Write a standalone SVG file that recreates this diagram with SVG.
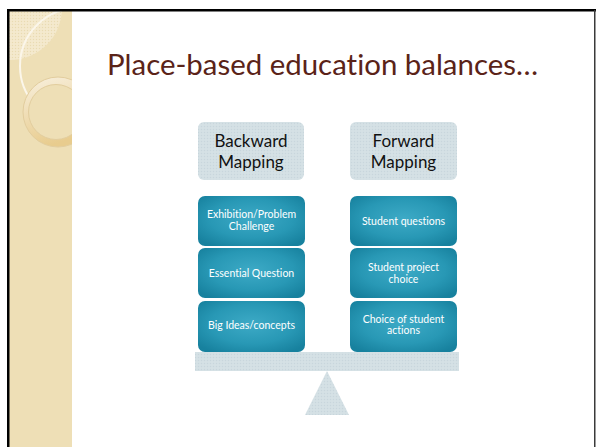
<svg xmlns="http://www.w3.org/2000/svg" width="596" height="447" viewBox="0 0 596 447">
<defs>
<pattern id="chk" width="3" height="3" patternUnits="userSpaceOnUse">
<rect width="3" height="3" fill="#D3DFE4"/>
<rect width="1" height="1" fill="#C8D6DC"/>
<rect x="1.5" y="1.5" width="1" height="1" fill="#DDE7EB"/>
</pattern>
<pattern id="bchk" width="3" height="3" patternUnits="userSpaceOnUse">
<rect width="3" height="3" fill="#F3E8CA"/>
<rect width="1" height="1" fill="#E9DAB3"/>
<rect x="1.5" y="1.5" width="1" height="1" fill="#F7EFDA"/>
</pattern>
<radialGradient id="teal" cx="0.5" cy="0.45" r="0.65">
<stop offset="0" stop-color="#3DAAC6"/>
<stop offset="0.6" stop-color="#2898B5"/>
<stop offset="1" stop-color="#17819E"/>
</radialGradient>
<linearGradient id="ring" x1="0" y1="0" x2="0.3" y2="1">
<stop offset="0" stop-color="#F8F0DE"/>
<stop offset="1" stop-color="#E8CC8E"/>
</linearGradient>
<clipPath id="strip"><rect x="9" y="11" width="63" height="436"/></clipPath>
</defs>
<style>
.hdr{fill:url(#chk)}
.box{fill:url(#teal)}
.ht{font-family:Lato,"Liberation Sans",sans-serif;font-size:17px;fill:#111;text-anchor:middle}
.bt{font-family:Lato,"Liberation Sans",sans-serif;font-size:10.5px;fill:#fff;text-anchor:middle}
text{font-variant-ligatures:none}
</style>
<rect width="596" height="447" fill="#fff"/>
<g id="sidebar">
<rect x="9" y="11" width="63" height="436" fill="#EEDFB6"/>
<g clip-path="url(#strip)">
<circle cx="10" cy="8" r="52" fill="url(#bchk)"/>
<path d="M 78 8 A 58 58 0 0 0 20 66 A 58 58 0 0 0 72 123.7" fill="none" stroke="#FBF6EA" stroke-width="2"/>
<circle cx="58" cy="112" r="35" fill="url(#ring)" stroke="#E2CD9E" stroke-width="1"/>
<circle cx="56" cy="112" r="27.5" fill="#EEDFB6" stroke="#E2CD9E" stroke-width="1"/>
</g>
</g>
<g id="frame">
<rect x="7" y="9" width="589" height="2.5" fill="#000"/>
<rect x="7" y="9" width="2.5" height="438" fill="#000"/>
<rect x="594" y="10" width="1.5" height="437" fill="#3A3A3A"/>
</g>
<text id="title" x="107" y="75" font-family="Lato,'Liberation Sans',sans-serif" font-size="28" fill="#5A2318" textLength="431" lengthAdjust="spacingAndGlyphs">Place-based education balances…</text>
<g id="backward-header">
<rect class="hdr" x="198" y="122" width="106" height="58" rx="6"/>
<text class="ht" x="251" y="147">Backward</text>
<text class="ht" x="251" y="168">Mapping</text>
</g>
<g id="forward-header">
<rect class="hdr" x="350" y="122" width="107" height="58" rx="6"/>
<text class="ht" x="403.5" y="147">Forward</text>
<text class="ht" x="403.5" y="168">Mapping</text>
</g>
<g id="exhibition">
<rect class="box" x="198" y="196" width="107" height="50" rx="7"/>
<text class="bt" x="251.5" y="218">Exhibition/Problem</text>
<text class="bt" x="251.5" y="229.5">Challenge</text>
</g>
<g id="essential">
<rect class="box" x="198" y="248" width="107" height="50" rx="7"/>
<text class="bt" x="251.5" y="276.5">Essential Question</text>
</g>
<g id="bigideas">
<rect class="box" x="198" y="301" width="107" height="51" rx="7"/>
<text class="bt" x="251.5" y="328.5">Big Ideas/concepts</text>
</g>
<g id="studentq">
<rect class="box" x="350" y="196" width="107" height="50" rx="7"/>
<text class="bt" x="403.5" y="224.5">Student questions</text>
</g>
<g id="project">
<rect class="box" x="350" y="248" width="107" height="50" rx="7"/>
<text class="bt" x="403.5" y="271">Student project</text>
<text class="bt" x="403.5" y="282.5">choice</text>
</g>
<g id="actions">
<rect class="box" x="350" y="301" width="107" height="51" rx="7"/>
<text class="bt" x="403.5" y="322.5">Choice of student</text>
<text class="bt" x="403.5" y="334">actions</text>
</g>
<g id="balance">
<rect x="195" y="352" width="264" height="19" fill="url(#chk)"/>
<polygon points="327,371 349,415 305,415" fill="url(#chk)"/>
</g>
<g id="connectors"></g>
</svg>
